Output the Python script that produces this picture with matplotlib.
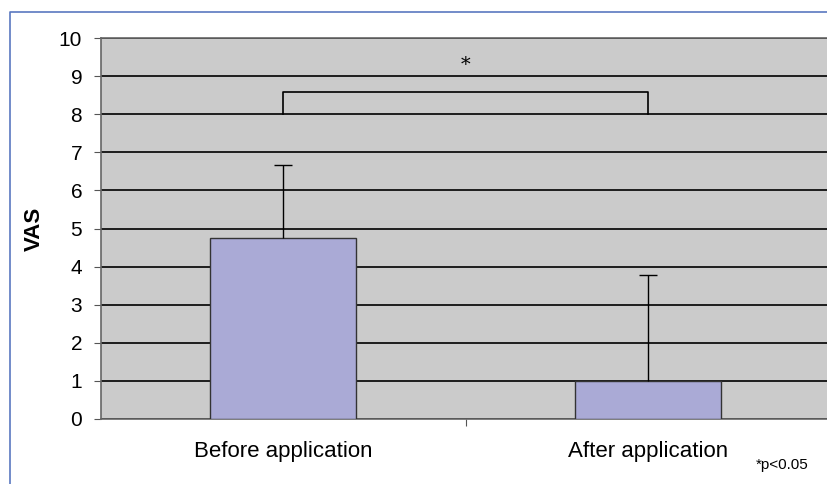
import matplotlib.pyplot as plt
from matplotlib.lines import Line2D

plt.rcParams['font.family'] = ['Liberation Sans', 'DejaVu Sans']

categories = ["Before application", "After application"]
means = [4.75, 1.0]
errors = [1.92, 2.78]
y_ticks = list(range(0, 11))

fig = plt.figure(figsize=(8.28, 4.84), dpi=100)
# outer chart frame: only left and top edges are visible in the original
frame_x = [9.5 / 828, 9.5 / 828, 1.0]
frame_y = [0.0, 1 - 12 / 484, 1 - 12 / 484]
fig.add_artist(Line2D(frame_x, frame_y, transform=fig.transFigure,
                      color="#5a78c0", linewidth=1.2))

ax = fig.add_axes([101 / 828, 1 - 419 / 484, 730 / 828, 381 / 484])
ax.set_facecolor("#cbcbcb")

x = range(len(categories))
ax.bar(x, means, width=0.4, color="#aaaad6", edgecolor="#333333",
       linewidth=1.0, zorder=3)
eb = ax.errorbar(x, means, yerr=[[0, 0], errors], fmt="none", ecolor="black",
                 elinewidth=1.0, capsize=6.5, capthick=1.0, zorder=4)
# only upper caps, like the original
caps = eb.lines[1]
if len(caps) > 1:
    caps[0].set_visible(False)

ax.set_ylim(0, 10)
ax.set_xlim(-0.5, 1.5)
ax.set_yticks(y_ticks)
ax.yaxis.grid(True, color="black", linewidth=1.2, zorder=1)
ax.set_axisbelow(True)
ax.set_xticks([0.5])
ax.set_xticklabels([""])
ax.tick_params(axis="x", length=5, color="#555555")
ax.tick_params(axis="y", labelsize=15, length=5, pad=8.5, color="#555555")
for i, lab in enumerate(categories):
    ax.text(i, -0.85, lab, ha="center", va="center", fontsize=16)

for side in ["left", "bottom", "top"]:
    ax.spines[side].set_color("#666666")
    ax.spines[side].set_linewidth(1.2)
ax.spines["right"].set_visible(False)

ax.set_ylabel("VAS", fontsize=16, fontweight="bold", labelpad=10)

# significance bracket
ax.plot([0, 0, 1, 1], [8.0, 8.58, 8.58, 8.0], color="black", linewidth=1.2,
        zorder=5)
ax.text(0.5, 9.3, "*", ha="center", va="center", fontsize=14,
        family="DejaVu Serif")

fig.text(756 / 828, 1 - 465 / 484, "*p<0.05", fontsize=11, ha="left",
         va="center")

fig.savefig("out.png", dpi=100)
